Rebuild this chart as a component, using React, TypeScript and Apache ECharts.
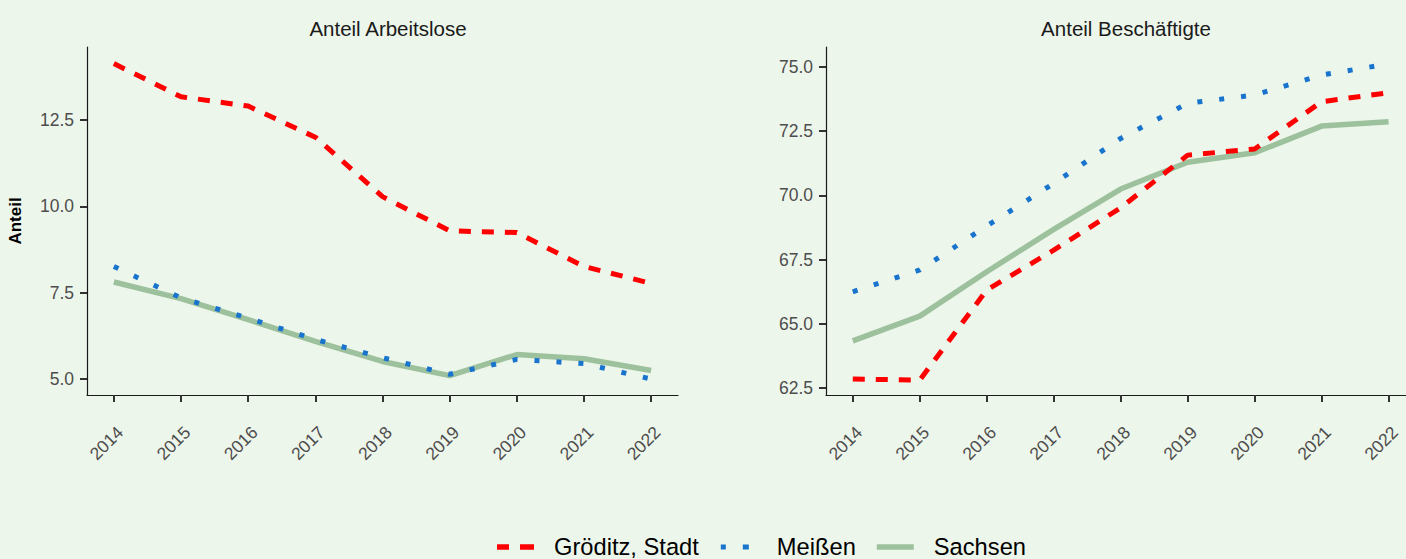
import React, { useEffect, useRef } from "react";
import * as echarts from "echarts";

const years = [2014, 2015, 2016, 2017, 2018, 2019, 2020, 2021, 2022];
const seriesNames = ["Gröditz, Stadt", "Meißen", "Sachsen"];
const panelTitles = ["Anteil Arbeitslose", "Anteil Beschäftigte"];

// Anteil Arbeitslose
const alGroeditz = [14.13, 13.17, 12.9, 12.0, 10.28, 9.29, 9.24, 8.26, 7.77];
const alMeissen = [8.26, 7.35, 6.76, 6.15, 5.62, 5.14, 5.57, 5.45, 5.0];
const alSachsen = [7.81, 7.33, 6.72, 6.09, 5.51, 5.1, 5.71, 5.59, 5.25];

// Anteil Beschäftigte
const beGroeditz = [62.85, 62.81, 66.32, 67.87, 69.52, 71.57, 71.81, 73.65, 74.0];
const beMeissen = [66.25, 67.1, 68.81, 70.47, 72.22, 73.59, 73.91, 74.69, 75.12];
const beSachsen = [64.34, 65.3, 67.03, 68.68, 70.25, 71.29, 71.66, 72.7, 72.87];

const ticksAL = [5, 7.5, 10, 12.5];
const ticksBE = [62.5, 65, 67.5, 70, 72.5, 75];

const colors = ["#FF0000", "#1874CD", "#9DC19D"];
const legendIcons = [
  "path://M0,0h12v5.5h-12zM23,0h14v5.5h-14z",
  "path://M0,0h0.01v5h-0.01zM1,0h5v5h-5zM23,0h6v5h-6zM36.99,0h0.01v5h-0.01z",
  "path://M0,0h37v5.5h-37z",
];
const FONT = "Liberation Sans, Arial, sans-serif";

export default function App() {
  const ref = useRef<HTMLDivElement>(null);
  useEffect(() => {
    const chart = echarts.init(ref.current!, null, { renderer: "svg" });
    const pair = (ys: number[]) => years.map((y, i) => [y, ys[i]]);
    const lineStyles: any[] = [
      { color: colors[0], width: 5, type: [12, 11], cap: "butt" },
      { color: colors[1], width: 5, type: [5, 17], cap: "butt" },
      { color: colors[2], width: 5.5, type: "solid", cap: "butt" },
    ];
    const mk = (data: number[], idx: number, k: number) => ({
      type: "line",
      name: seriesNames[k],
      xAxisIndex: idx,
      yAxisIndex: idx,
      data: pair(data),
      showSymbol: false,
      symbol: "none",
      color: colors[k],
      lineStyle: lineStyles[k],
      z: 3 - k,
    });
    const axisCol = "#333333";
    const xAxisBase = (gi: number, max: number) => ({
      type: "value",
      gridIndex: gi,
      min: 2013.6,
      max,
      axisLine: { show: true, lineStyle: { color: "#1A1A1A", width: 1.2 } },
      axisTick: {
        show: true,
        length: 7,
        customValues: years,
        lineStyle: { color: axisCol, width: 2 },
      },
      axisLabel: {
        customValues: years,
        rotate: 45,
        verticalAlign: "top",
        color: "#4D4D4D",
        fontSize: 17.5,
        fontFamily: FONT,
        margin: 28,
        formatter: (v: number) => String(Math.round(v)),
      },
      splitLine: { show: false },
    });
    const yAxisBase = (gi: number, min: number, max: number, ticks: number[]) => ({
      type: "value",
      gridIndex: gi,
      min,
      max,
      axisLine: { show: true, lineStyle: { color: "#1A1A1A", width: 1.2 } },
      axisTick: {
        show: true,
        length: 7,
        customValues: ticks,
        lineStyle: { color: axisCol, width: 2 },
      },
      axisLabel: {
        customValues: ticks,
        color: "#4D4D4D",
        fontSize: 17.5,
        fontFamily: FONT,
        margin: 13,
        formatter: (v: number) => v.toFixed(1),
      },
      splitLine: { show: false },
    });
    const titleStyle = { fontSize: 20.5, fontWeight: "normal", color: "#1A1A1A", fontFamily: FONT };
    chart.setOption({
      animation: false,
      backgroundColor: "#EDF6EB",
      textStyle: { fontFamily: FONT },
      title: [
        { text: panelTitles[0], left: 383, top: 13, textAlign: "center", textStyle: titleStyle },
        { text: panelTitles[1], left: 1121, top: 13, textAlign: "center", textStyle: titleStyle },
      ],
      grid: [
        { left: 87, top: 47, width: 591, height: 348, containLabel: false },
        { left: 826, top: 47, right: 0, height: 348, containLabel: false },
      ],
      xAxis: [xAxisBase(0, 2022.4), xAxisBase(1, 2022.26)],
      yAxis: [
        {
          ...yAxisBase(0, 4.54, 14.61, ticksAL),
          name: "Anteil",
          nameLocation: "middle",
          nameRotate: 90,
          nameGap: 63,
          nameTextStyle: { fontSize: 17, fontWeight: "bold", color: "#000000", fontFamily: FONT },
        },
        yAxisBase(1, 62.23, 75.78, ticksBE),
      ],
      legend: {
        data: seriesNames.map((n, i) => ({ name: n, icon: legendIcons[i] })),
        top: 535,
        left: 497,
        padding: 0,
        itemWidth: 37,
        itemHeight: 5.5,
        itemGap: 21,
        textStyle: { fontSize: 23.7, color: "#000000", fontFamily: FONT, padding: [0, 0, 0, 15] },
      },
      series: [
        mk(alGroeditz, 0, 0),
        mk(alMeissen, 0, 1),
        mk(alSachsen, 0, 2),
        mk(beGroeditz, 1, 0),
        mk(beMeissen, 1, 1),
        mk(beSachsen, 1, 2),
      ],
    });
    return () => chart.dispose();
  }, []);
  return (
    <div
      ref={ref}
      style={{ position: "fixed", left: 0, top: 0, width: 1406, height: 559 }}
    />
  );
}
